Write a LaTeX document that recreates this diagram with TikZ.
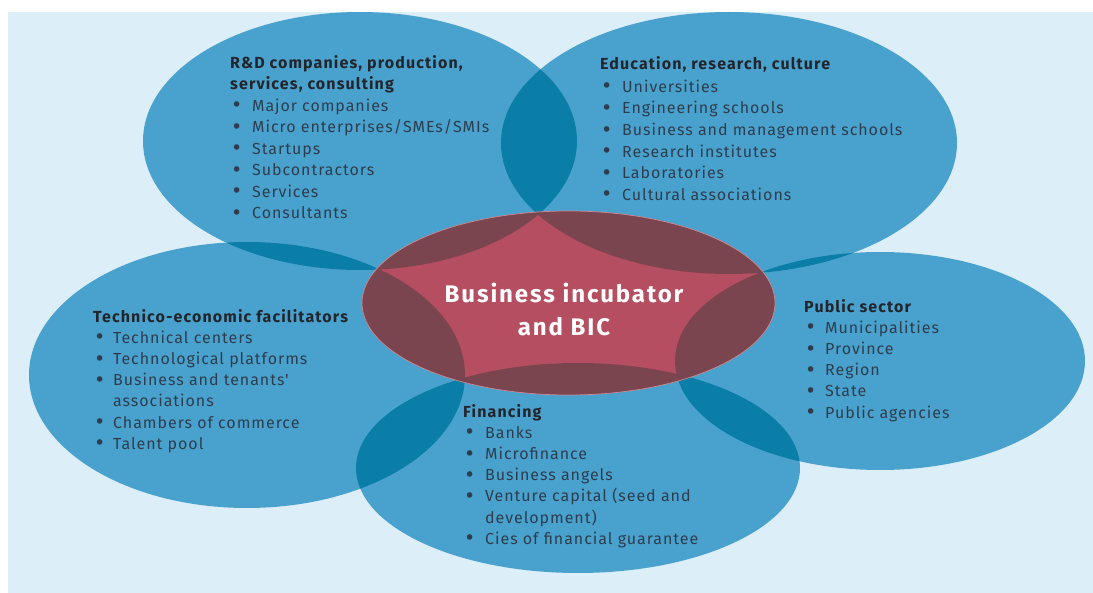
\documentclass[tikz,border=0pt]{standalone}
\usepackage{fontspec}
\setmainfont{Fira Sans}
\newfontfamily\itemfont[LetterSpace=6]{Fira Sans}
\newfontfamily\headfont[LetterSpace=7]{Fira Sans}
\newfontfamily\centerfont[LetterSpace=8]{Fira Sans}
\newfontfamily\dejavu{DejaVu Sans}
\definecolor{bgpale}{HTML}{DCEEF8}
\definecolor{blueell}{HTML}{49A2CD}
\definecolor{bluelens}{HTML}{0B7EA8}
\definecolor{redlight}{HTML}{B54E60}
\definecolor{reddark}{HTML}{7B4550}
\definecolor{redline}{HTML}{C98C95}
\definecolor{headcol}{HTML}{22252C}
\definecolor{itemcol}{HTML}{2E3D4E}
\tikzset{
  blk/.style={anchor=north west, inner sep=0pt, align=left, text=itemcol,
    font=\itemfont\fontsize{16}{21.2}\selectfont},
}
\newcommand{\hd}[1]{{\headfont\bfseries\color{headcol}#1}}
\newcommand{\bitem}[2][22pt]{\makebox[#1][l]{\hspace{1pt}\raisebox{-0.6pt}{\dejavu\fontsize{19}{19}\selectfont •}}#2}
\def\ellA{(360,141) ellipse [x radius=217pt, y radius=129pt]}
\def\ellB{(729,143) ellipse [x radius=228pt, y radius=131pt]}
\def\ellC{(247,375) ellipse [x radius=218pt, y radius=133pt]}
\def\ellD{(880,361) ellipse [x radius=205pt, y radius=109pt]}
\def\ellE{(578,468) ellipse [x radius=222pt, y radius=105pt]}
\def\ellR{(568.5,303) ellipse [x radius=206.5pt, y radius=92pt]}
\begin{document}
\begin{tikzpicture}[x=1pt,y=-1pt]
\useasboundingbox (0,0) rectangle (1093,593);
\fill[white] (0,0) rectangle (1093,593);
\fill[bgpale] (8,12) rectangle (1093,593);
% blue ellipses
\fill[blueell] \ellA;
\fill[blueell] \ellB;
\fill[blueell] \ellC;
\fill[blueell] \ellD;
\fill[blueell] \ellE;
% overlaps
\begin{scope}\clip \ellA; \fill[bluelens] \ellB; \fill[bluelens] \ellC; \end{scope}
\begin{scope}\clip \ellB; \fill[bluelens] \ellD; \end{scope}
\begin{scope}\clip \ellC; \fill[bluelens] \ellE; \end{scope}
\begin{scope}\clip \ellD; \fill[bluelens] \ellE; \end{scope}
% central red ellipse
\fill[redlight] \ellR;
\begin{scope}\clip \ellR;
  \fill[reddark] \ellA; \fill[reddark] \ellB; \fill[reddark] \ellC;
  \fill[reddark] \ellD; \fill[reddark] \ellE;
\end{scope}
\draw[redline, line width=0.7pt] \ellR;
% texts
\node[blk, font=\itemfont\fontsize{16}{21.5}\selectfont] (rd) at (230,55)
  {\hd{R\&D companies, production,}\\\hd{services, consulting}\\
  \bitem{Major companies}\\\bitem{Micro enterprises/SMEs/SMIs}\\\bitem{Startups}\\
  \bitem{Subcontractors}\\\bitem{Services}\\\bitem{Consultants}};
\node[blk, font=\itemfont\fontsize{16}{21.6}\selectfont] (edu) at (600,56)
  {\hd{Education, research, culture}\\[1.5pt]
  \bitem{Universities}\\\bitem{Engineering schools}\\\bitem{Business and management schools}\\
  \bitem{Research institutes}\\\bitem{Laboratories}\\\bitem{Cultural associations}};
\node[blk] (tech) at (93,309) {\hd{Technico-economic facilitators}\\
  \bitem[20pt]{Technical centers}\\\bitem[20pt]{Technological platforms}\\
  \bitem[20pt]{Business and tenants'}\\\hspace*{20pt}associations\\
  \bitem[20pt]{Chambers of commerce}\\\bitem[20pt]{Talent pool}};
\node[blk] (pub) at (804,299) {\hd{Public sector}\\
  \bitem[21pt]{Municipalities}\\\bitem[21pt]{Province}\\\bitem[21pt]{Region}\\
  \bitem[21pt]{State}\\\bitem[21pt]{Public agencies}};
\node[blk] (fin) at (463,404) {\hd{Financing}\\
  \bitem{Banks}\\\bitem{Microfinance}\\\bitem{Business angels}\\
  \bitem{Venture capital (seed and}\\\hspace*{22pt}development)\\
  \bitem{Cies of financial guarantee}};
\node[inner sep=0pt, align=center, text=white,
  font=\centerfont\bfseries\fontsize{24}{33}\selectfont] (bic) at (564,309)
  {Business incubator\\and BIC};
\end{tikzpicture}
\end{document}
